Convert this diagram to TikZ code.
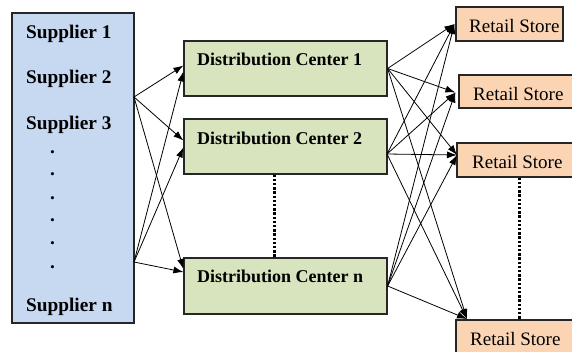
\documentclass[tikz,border=0pt]{standalone}
\usepackage{fontspec}
\setmainfont{Liberation Serif}
\usetikzlibrary{arrows.meta}
\definecolor{supblue}{RGB}{198,217,241}
\definecolor{dcgreen}{RGB}{215,228,189}
\definecolor{rsorange}{RGB}{251,212,180}
\tikzset{
  box/.style={draw=black!85, line width=1.2pt},
  boldtxt/.style={font=\fontsize{18}{20}\selectfont\bfseries, inner sep=0pt, anchor=base west},
  suptxt/.style={font=\fontsize{19.3}{21}\selectfont\bfseries, inner sep=0pt, anchor=base west},
  rstxt/.style={font=\fontsize{19}{21}\selectfont, inner sep=0pt, anchor=base west},
  conn/.style={line width=0.8pt, -{Latex[length=10pt,width=7pt]}},
  dotline/.style={line width=3pt, dash pattern=on 2.4pt off 1.8pt}
}
\begin{document}
\begin{tikzpicture}[x=1pt,y=-1pt]
\clip (0,0) rectangle (572,351);
\fill[white] (0,0) rectangle (572,351);
% supplier box
\draw[box, fill=supblue] (12,13) rectangle (134,323);
\node (sup) at (73,168) {};
\node[suptxt] (st1) at (26,38) {Supplier 1};
\node[suptxt] (st2) at (26,83) {Supplier 2};
\node[suptxt] (st3) at (26,129) {Supplier 3};
\foreach \i/\yy in {1/153,2/175,3/199,4/221,5/244,6/268}
  \node[suptxt] (sd\i) at (50,\yy) {.};
\node[suptxt] (stn) at (26,311) {Supplier n};
% distribution centers
\node[box, fill=dcgreen, minimum width=203pt, minimum height=55pt, inner sep=0pt] (dc1) at (285.5,68.5) {};
\node[box, fill=dcgreen, minimum width=203pt, minimum height=55pt, inner sep=0pt] (dc2) at (285.5,146.5) {};
\node[box, fill=dcgreen, minimum width=203pt, minimum height=56pt, inner sep=0pt] (dcn) at (285.5,286) {};
\node[boldtxt] (dt1) at (197,65) {Distribution Center 1};
\node[boldtxt] (dt2) at (197,144) {Distribution Center 2};
\node[boldtxt] (dtn) at (197,282) {Distribution Center n};
\draw[dotline] (dc2.south -| 274,0) -- (dcn.north -| 274,0);
% retail stores
\node[box, fill=rsorange, minimum width=107pt, minimum height=34pt, inner sep=0pt] (rs1) at (509.5,24) {};
\node[box, fill=rsorange, minimum width=120pt, minimum height=33pt, inner sep=0pt] (rs2) at (519,91.5) {};
\node[box, fill=rsorange, minimum width=120pt, minimum height=34pt, inner sep=0pt] (rs3) at (517,160) {};
\node[box, fill=rsorange, minimum width=120pt, minimum height=40pt, inner sep=0pt] (rs4) at (516,340) {};
\node[rstxt] (rt1) at (469,32.5) {Retail Store};
\node[rstxt] (rt2) at (473,100) {Retail Store};
\node[rstxt] (rt3) at (472,168) {Retail Store};
\node[rstxt] (rt4) at (470,345) {Retail Store};
\draw[dotline] (rs3.south -| 519,0) -- (rs4.north -| 519,0);
% ports
\coordinate (s2) at (134,97);
\coordinate (sn) at (134,262);
\coordinate (d2) at (387,154);
\coordinate (r3) at (457,155);
\coordinate (r4) at (467,319);
% supplier -> DC
\draw[conn] (s2) -- ([yshift=3pt]dc1.west);
\draw[conn] (s2) -- ([yshift=6pt]dc2.west);
\draw[conn] (s2) -- ([yshift=17pt]dcn.west);
\draw[conn] (sn) -- ([yshift=-3pt]dc1.west);
\draw[conn] (sn) -- ([yshift=-1pt]dc2.west);
\draw[conn] (sn) -- ([yshift=14pt]dcn.west);
% DC -> RS
\foreach \src in {dc1.east,d2,dcn.east}{
  \draw[conn] (\src) -- ([xshift=-1pt]rs1.west);
  \draw[conn] (\src) -- ([xshift=-3pt,yshift=-1pt]rs2.west);
  \draw[conn] (\src) -- (r3);
  \draw[conn] (\src) -- (r4);
}
\end{tikzpicture}
\end{document}
